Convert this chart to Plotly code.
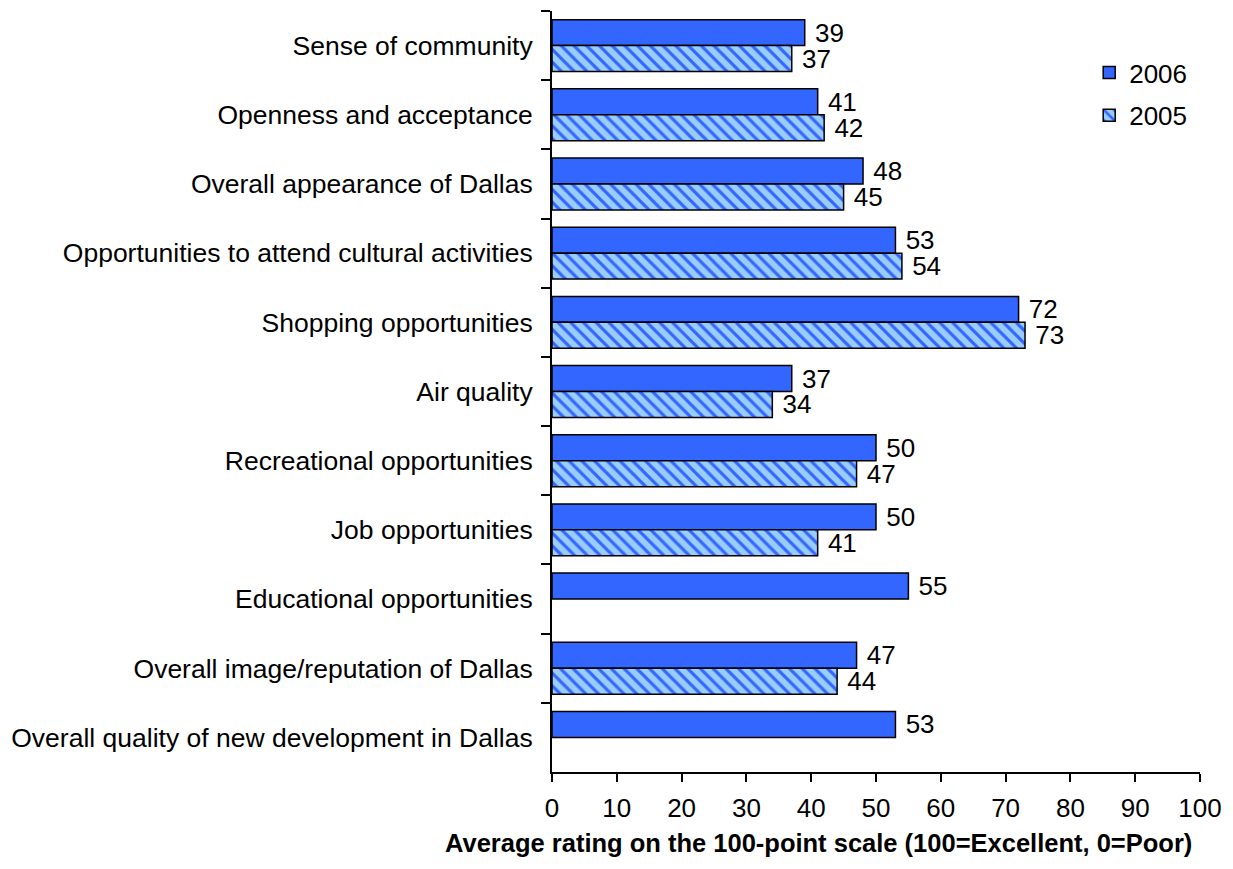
import plotly.graph_objects as go

categories = [
    "Sense of community",
    "Openness and acceptance",
    "Overall appearance of Dallas",
    "Opportunities to attend cultural activities",
    "Shopping opportunities",
    "Air quality",
    "Recreational opportunities",
    "Job opportunities",
    "Educational opportunities",
    "Overall image/reputation of Dallas",
    "Overall quality of new development in Dallas",
]
values_2006 = [39, 41, 48, 53, 72, 37, 50, 50, 55, 47, 53]
values_2005 = [37, 42, 45, 54, 73, 34, 47, 41, None, 44, None]
x_ticks = [0, 10, 20, 30, 40, 50, 60, 70, 80, 90, 100]
x_title = "<b>Average rating on the 100-point scale (100=Excellent, 0=Poor)</b>"

FONT = "Liberation Sans, Arial, sans-serif"
FS = 26

fig = go.Figure()
fig.add_trace(go.Bar(
    name="2006", y=categories, x=values_2006, orientation="h",
    legendgroup="g2006",
    marker=dict(color="#3366FF", line=dict(color="black", width=1.5)),
    text=values_2006, textposition="outside", texttemplate=" %{x}",
    constraintext="none",
    textfont=dict(size=FS, color="black", family=FONT), cliponaxis=False,
))
fig.add_trace(go.Bar(
    name="2005", y=categories, x=values_2005, orientation="h",
    legendgroup="g2005",
    marker=dict(color="#99CCFF", line=dict(color="black", width=1.5),
                pattern=dict(shape="\\", fgcolor="#3366FF", bgcolor="#99CCFF",
                             size=9, solidity=0.35, fillmode="replace")),
    text=values_2005, textposition="outside", texttemplate=" %{x}",
    constraintext="none",
    textfont=dict(size=FS, color="black", family=FONT), cliponaxis=False,
))

fig.update_layout(
    width=1217, height=853,
    paper_bgcolor="white", plot_bgcolor="white",
    barmode="group", bargap=0.25, bargroupgap=0,
    margin=dict(l=542, r=24, t=3, b=89),
    font=dict(family=FONT, size=FS, color="black"),
    legend=dict(x=0.829, y=0.95, xanchor="left", yanchor="top",
                font=dict(size=FS), tracegroupgap=6,
                bgcolor="rgba(0,0,0,0)"),
    showlegend=True,
    uniformtext=dict(mode=False),
)
fig.add_annotation(
    text=x_title, xref="paper", yref="paper", x=0.991, y=0,
    xanchor="right", yanchor="middle", yshift=-71, showarrow=False,
    font=dict(size=25.5, family=FONT, color="black"),
)
fig.update_xaxes(
    range=[0, 100], tickvals=x_ticks, showgrid=False, zeroline=False,
    showline=True, linecolor="black", linewidth=2,
    ticks="outside", ticklen=8, tickwidth=2, tickcolor="black",
    tickfont=dict(size=FS), ticklabelstandoff=4,
)
fig.update_yaxes(
    autorange="reversed", showgrid=False, zeroline=False,
    showline=True, linecolor="black", linewidth=2,
    ticks="outside", ticklen=9, tickwidth=2, tickcolor="black",
    tickson="boundaries", tickfont=dict(size=26.5), ticklabelstandoff=12,
)

fig.write_html("out.html")
